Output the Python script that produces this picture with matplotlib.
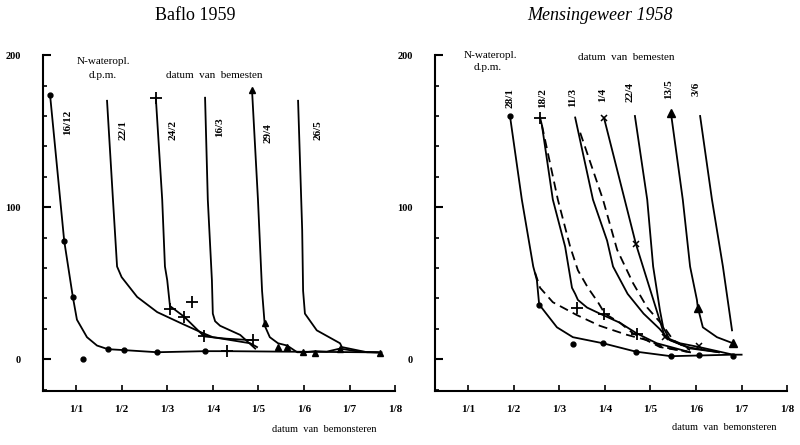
import matplotlib.pyplot as plt
from matplotlib.ticker import MultipleLocator

plt.rcParams['font.family'] = ['Liberation Serif', 'DejaVu Serif']

# x in months after 1 January (0 = 1/1, 1 = 1/2, ...), y = N-wateroplosbaar (d.p.m.)
month_labels = ['1/1', '1/2', '1/3', '1/4', '1/5', '1/6', '1/7', '1/8']

# ---- Baflo 1959 ----
b1612_x = [-0.57, -0.26, -0.07, 0.02, 0.24, 0.46, 0.70, 1.05, 1.78, 2.83, 3.31, 4.5, 5.5, 6.7]
b1612_y = [174, 78, 41, 26, 14.5, 9, 6.6, 6, 4.6, 5.3, 5.3, 5, 4.8, 4.5]
b1612_mx = [-0.57, -0.26, -0.07, 0.70, 1.05, 1.78, 2.83, 0.15]
b1612_my = [174, 78, 41, 6.6, 6, 4.6, 5.3, 0]

b221_x = [0.68, 0.81, 0.90, 1.0, 1.34, 1.78, 2.28, 2.72, 3.0, 3.82, 3.97]
b221_y = [170, 105, 61, 54, 41, 31, 24, 18, 14.5, 10.5, 8]

b242_x = [1.75, 1.89, 1.95, 2.0, 2.06, 2.37, 2.81, 3.3, 3.88]
b242_y = [172, 105, 61, 52, 35, 28, 15, 13.5, 12.5]
b242_mx = [1.75, 2.06, 2.37, 2.54, 2.81, 3.88, 3.31]
b242_my = [172, 33, 28, 37.5, 15, 12.5, 5.3]

b163_x = [2.83, 2.89, 2.98, 3.0, 3.05, 3.16, 3.6, 3.93]
b163_y = [172, 105, 52, 30, 25, 22, 16, 7]

b294_x = [3.86, 3.99, 4.08, 4.14, 4.25, 4.43, 4.63, 4.85, 5.02, 5.24, 5.5, 5.79, 6.2, 6.62]
b294_y = [177, 105, 45, 22, 14.5, 10.5, 9, 4.6, 4.6, 5.3, 5, 7, 5, 4.5]
b294_mx = [3.86, 4.14, 4.43, 4.63, 4.98, 5.24, 5.79, 6.67]
b294_my = [177, 24, 8.3, 8.3, 4.6, 4.4, 7, 4]

b265_x = [4.87, 4.96, 4.98, 5.02, 5.28, 5.79, 5.83, 6.38, 6.62]
b265_y = [170, 85, 45, 30, 19, 10.5, 8, 4.6, 4.5]

b_labels = ['16/12', '22/1', '24/2', '16/3', '29/4', '26/5']
b_label_x = [-0.18, 1.03, 2.13, 3.16, 4.21, 5.31]
b_label_y = [156, 151, 151, 153, 149, 151]

# ---- Mensingeweer 1958 ----
m281_x = [0.92, 1.18, 1.43, 1.51, 1.56, 1.95, 2.30, 2.96, 3.68, 4.45, 5.81, 6.0]
m281_y = [160, 105, 61, 52, 36, 21, 14.5, 10.5, 5, 2, 3, 3]
m281_mx = [0.92, 1.56, 2.30, 2.96, 3.68, 4.45, 5.07, 5.81]
m281_my = [160, 36, 10, 10.5, 5, 2, 3, 2]

m281d_x = [1.47, 1.58, 1.86, 2.39, 2.89, 3.49, 3.93, 4.28, 4.8]
m281d_y = [57, 47, 37.5, 29, 22, 16, 12.5, 8, 5]

m182_x = [1.58, 1.62, 1.86, 2.13, 2.28, 2.35, 2.41, 2.61, 2.89, 3.33, 3.7, 4.14, 4.87]
m182_y = [159, 154, 105, 74, 47, 43, 39, 34, 30, 24, 17, 10.5, 4.6]
m182_mx = [1.58, 2.40, 2.98, 3.71]
m182_my = [159, 34, 30, 16.4]

m182d_x = [1.62, 1.97, 2.24, 2.41, 2.63, 2.85, 3.0, 3.33, 3.62, 4.21, 4.87]
m182d_y = [154, 105, 74, 58.5, 47, 37.5, 30, 24, 17, 8, 4.6]

m113_x = [2.35, 2.74, 3.05, 3.18, 3.5, 3.85, 4.2, 4.4, 4.9, 5.5]
m113_y = [159, 105, 78, 61, 43, 30, 20, 13, 7, 4.6]

m113d_x = [2.46, 2.96, 3.27, 3.62, 3.93, 4.28, 4.5, 4.87]
m113d_y = [149, 105, 72, 50, 34, 22, 12.5, 6]

m14_x = [2.98, 3.68, 4.32, 4.65, 5.07, 5.81]
m14_y = [159, 76, 14.5, 10.5, 8, 3]
m14_mx = [2.98, 3.68, 4.32, 5.07]
m14_my = [159, 76, 14.5, 8.5]

m224_x = [3.66, 3.93, 4.06, 4.21, 4.28, 4.43, 4.8, 5.5]
m224_y = [160, 105, 61, 32, 21, 12.5, 8, 4.6]

m135_x = [4.45, 4.71, 4.87, 5.02, 5.04, 5.15, 5.46, 5.81]
m135_y = [162, 105, 61, 39, 34, 21, 14.5, 10.5]
m135_mx = [4.45, 5.04, 5.81]
m135_my = [162, 34, 10.5]

m36_x = [5.09, 5.35, 5.59, 5.79]
m36_y = [160, 105, 61, 19]

m_labels = ['28/1', '18/2', '11/3', '1/4', '22/4', '13/5', '3/6']
m_label_x = [0.92, 1.64, 2.30, 2.96, 3.55, 4.41, 5.0]
m_label_y = [172, 172, 172, 174, 176, 178, 178]

fig = plt.figure(figsize=(8, 4.45), dpi=100)
ax1 = fig.add_axes([0.054, 0.121, 0.44, 0.755])
ax2 = fig.add_axes([0.544, 0.121, 0.44, 0.755])

lw = 1.3
k = 'black'

# Baflo
ax1.plot(b1612_x, b1612_y, color=k, lw=lw)
ax1.plot(b1612_mx, b1612_my, 'o', color=k, ms=3.5, ls='none')
ax1.plot(b221_x, b221_y, color=k, lw=lw)
ax1.plot(b242_x, b242_y, color=k, lw=lw)
ax1.plot(b242_mx, b242_my, '+', color=k, ms=8, mew=1.3, ls='none')
ax1.plot(b163_x, b163_y, color=k, lw=lw)
ax1.plot(b294_x, b294_y, color=k, lw=lw)
ax1.plot(b294_mx, b294_my, '^', color=k, ms=5, ls='none')
ax1.plot(b265_x, b265_y, color=k, lw=lw)
for t, x, y in zip(b_labels, b_label_x, b_label_y):
    ax1.text(x, y, t, rotation=90, ha='center', va='center', fontsize=8, fontweight='bold')

# Mensingeweer
ax2.plot(m281_x, m281_y, color=k, lw=lw)
ax2.plot(m281_mx, m281_my, 'o', color=k, ms=3.5, ls='none')
ax2.plot(m281d_x, m281d_y, color=k, lw=lw, ls=(0, (5, 3)))
ax2.plot(m182_x, m182_y, color=k, lw=lw)
ax2.plot(m182_mx, m182_my, '+', color=k, ms=8, mew=1.3, ls='none')
ax2.plot(m182d_x, m182d_y, color=k, lw=lw, ls=(0, (5, 3)))
ax2.plot(m113_x, m113_y, color=k, lw=lw)
ax2.plot(m113d_x, m113d_y, color=k, lw=lw, ls=(0, (5, 3)))
ax2.plot(m14_x, m14_y, color=k, lw=lw)
ax2.plot(m14_mx, m14_my, 'x', color=k, ms=5, mew=1.1, ls='none')
ax2.plot(m224_x, m224_y, color=k, lw=lw)
ax2.plot(m135_x, m135_y, color=k, lw=lw)
ax2.plot(m135_mx, m135_my, '^', color=k, ms=6, ls='none')
ax2.plot(m36_x, m36_y, color=k, lw=lw)
for t, x, y in zip(m_labels, m_label_x, m_label_y):
    ax2.text(x, y, t, rotation=90, ha='center', va='center', fontsize=8, fontweight='bold')

for ax in (ax1, ax2):
    ax.set_xlim(-0.72, 7.0)
    ax.set_ylim(-21, 200)
    ax.spines['top'].set_visible(False)
    ax.spines['right'].set_visible(False)
    ax.spines['left'].set_linewidth(1.5)
    ax.spines['bottom'].set_linewidth(1.5)
    ax.set_xticks(range(len(month_labels)))
    ax.set_xticklabels(month_labels, fontsize=8, fontweight='bold')
    ax.set_yticks([0, 100, 200])
    ax.set_yticklabels(['0', '100', '200'], fontsize=7.5, fontweight='bold')
    ax.yaxis.set_minor_locator(MultipleLocator(20))
    ax.tick_params(axis='y', which='major', direction='in', length=6, width=1.5, pad=16)
    ax.tick_params(axis='y', which='minor', direction='in', length=3, width=1.2)
    ax.tick_params(axis='x', direction='in', length=4, width=1.2, pad=10)

fig.text(195 / 800, 1 - 15 / 445, 'Baflo 1959', ha='center', va='center', fontsize=13)
fig.text(600 / 800, 1 - 15 / 445, 'Mensingeweer 1958', ha='center', va='center',
         fontsize=13, style='italic')

fig.text(103 / 800, 1 - 62 / 445, 'N-wateropl.', ha='center', va='center', fontsize=8)
fig.text(103 / 800, 1 - 75 / 445, 'd.p.m.', ha='center', va='center', fontsize=8)
fig.text(214 / 800, 1 - 75 / 445, 'datum  van  bemesten', ha='center', va='center', fontsize=8)
fig.text(324 / 800, 1 - 430 / 445, 'datum  van  bemonsteren', ha='center', va='center', fontsize=7.5)

fig.text(490 / 800, 1 - 55 / 445, 'N-wateropl.', ha='center', va='center', fontsize=8)
fig.text(488 / 800, 1 - 67 / 445, 'd.p.m.', ha='center', va='center', fontsize=8)
fig.text(626 / 800, 1 - 58 / 445, 'datum  van  bemesten', ha='center', va='center', fontsize=8)
fig.text(724 / 800, 1 - 428 / 445, 'datum  van  bemonsteren', ha='center', va='center', fontsize=7.5)

fig.savefig('out.png', dpi=100)
